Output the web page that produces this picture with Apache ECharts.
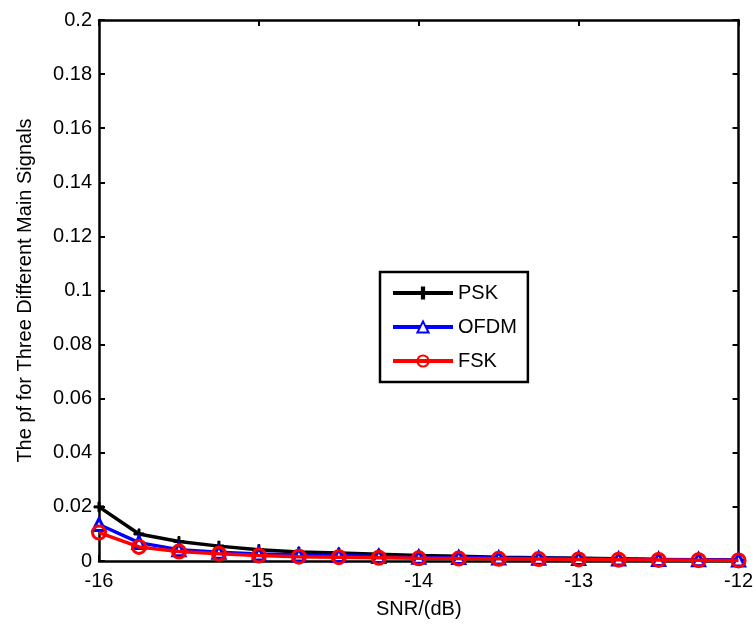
<!DOCTYPE html>
<html>
<head>
<meta charset="utf-8">
<script src="https://cdn.jsdelivr.net/npm/echarts@6/dist/echarts.min.js"></script>
<style>
  html, body { margin: 0; padding: 0; background: #fff; }
  #chart { width: 756px; height: 624px; }
</style>
</head>
<body>
<div id="chart"></div>
<script>
// SNR 轴
const snr = [-16, -15.75, -15.5, -15.25, -15, -14.75, -14.5, -14.25, -14,
  -13.75, -13.5, -13.25, -13, -12.75, -12.5, -12.25, -12];

// 三种信号的 pf
const psk = [0.020, 0.0100, 0.0072, 0.0055, 0.0042, 0.0033, 0.0030, 0.0025, 0.0020,
  0.0018, 0.0014, 0.0012, 0.0010, 0.0008, 0.0006, 0.0005, 0.0003];
const ofdm = [0.0135, 0.0068, 0.0042, 0.0032, 0.0026, 0.0022, 0.0020, 0.0017, 0.0014,
  0.0013, 0.0011, 0.0010, 0.0009, 0.0007, 0.0006, 0.0005, 0.0004];
const fsk = [0.0105, 0.0052, 0.0035, 0.0027, 0.0020, 0.0016, 0.0014, 0.0012, 0.0010,
  0.0009, 0.0008, 0.0007, 0.0006, 0.0005, 0.0004, 0.0003, 0.0002];

const yTicks = [0, 0.02, 0.04, 0.06, 0.08, 0.1, 0.12, 0.14, 0.16, 0.18, 0.2];

const font = 'Liberation Sans, Arial, sans-serif';
const fs = 20;
const pair = (ys) => snr.map((x, i) => [x, ys[i]]);

const chart = echarts.init(document.getElementById('chart'));

const axisBase = {
  axisLine: { show: true, onZero: false, lineStyle: { color: '#000', width: 2.5 } },
  axisTick: { show: true, inside: true, length: 6, lineStyle: { color: '#000', width: 2 } },
  splitLine: { show: false }
};

chart.setOption({
  animation: false,
  backgroundColor: '#fff',
  grid: { left: 99, right: 15, top: 20, bottom: 62 },
  legend: {
    orient: 'vertical',
    left: 380,
    top: 272,
    data: ['PSK', 'OFDM', 'FSK'],
    itemWidth: 60,
    itemHeight: 14,
    itemGap: 14,
    padding: [11, 11, 11, 11],
    borderColor: '#000',
    borderWidth: 2.5,
    backgroundColor: '#fff',
    lineStyle: { width: 4 },
    textStyle: { fontFamily: font, fontSize: fs, color: '#000' }
  },
  xAxis: [
    Object.assign({}, axisBase, {
      type: 'value', min: -16, max: -12, interval: 1,
      name: 'SNR/(dB)', nameLocation: 'middle', nameGap: 38,
      nameTextStyle: { fontFamily: font, fontSize: fs, color: '#000' },
      axisLabel: { fontFamily: font, fontSize: fs, color: '#000', margin: 10,
        formatter: (v) => String(v) }
    }),
    Object.assign({}, axisBase, {
      type: 'value', min: -16, max: -12, interval: 1, position: 'top',
      axisLabel: { show: false }
    })
  ],
  yAxis: [
    Object.assign({}, axisBase, {
      type: 'value', min: 0, max: 0.2, interval: 0.02,
      name: 'The pf for Three Different Main Signals', nameLocation: 'middle', nameGap: 64,
      nameTextStyle: { fontFamily: font, fontSize: fs, color: '#000' },
      axisLabel: { fontFamily: font, fontSize: fs, color: '#000', margin: 7,
        formatter: (v) => {
          const t = yTicks.find((k) => Math.abs(k - v) < 1e-9);
          return t === undefined ? '' : String(t);
        } }
    }),
    Object.assign({}, axisBase, {
      type: 'value', min: 0, max: 0.2, interval: 0.02, position: 'right',
      axisLabel: { show: false }
    })
  ],
  series: [
    {
      name: 'PSK', type: 'line', data: pair(psk),
      symbol: 'path://M4,0 L6,0 L6,4 L10,4 L10,6 L6,6 L6,10 L4,10 L4,6 L0,6 L0,4 L4,4 Z',
      symbolSize: 10,
      lineStyle: { color: '#000', width: 3.5 },
      itemStyle: { color: '#000', borderColor: '#000', borderWidth: 1 },
      z: 3
    },
    {
      name: 'OFDM', type: 'line', data: pair(ofdm),
      symbol: 'triangle', symbolSize: 12,
      lineStyle: { color: '#0000ff', width: 3.5 },
      itemStyle: { color: '#fff', borderColor: '#0000ff', borderWidth: 3 },
      z: 4
    },
    {
      name: 'FSK', type: 'line', data: pair(fsk),
      symbol: 'circle', symbolSize: 13,
      lineStyle: { color: '#ff0000', width: 3.5 },
      itemStyle: { color: 'rgba(255,255,255,0)', borderColor: '#ff0000', borderWidth: 3 },
      z: 5
    }
  ]
});
</script>
</body>
</html>
